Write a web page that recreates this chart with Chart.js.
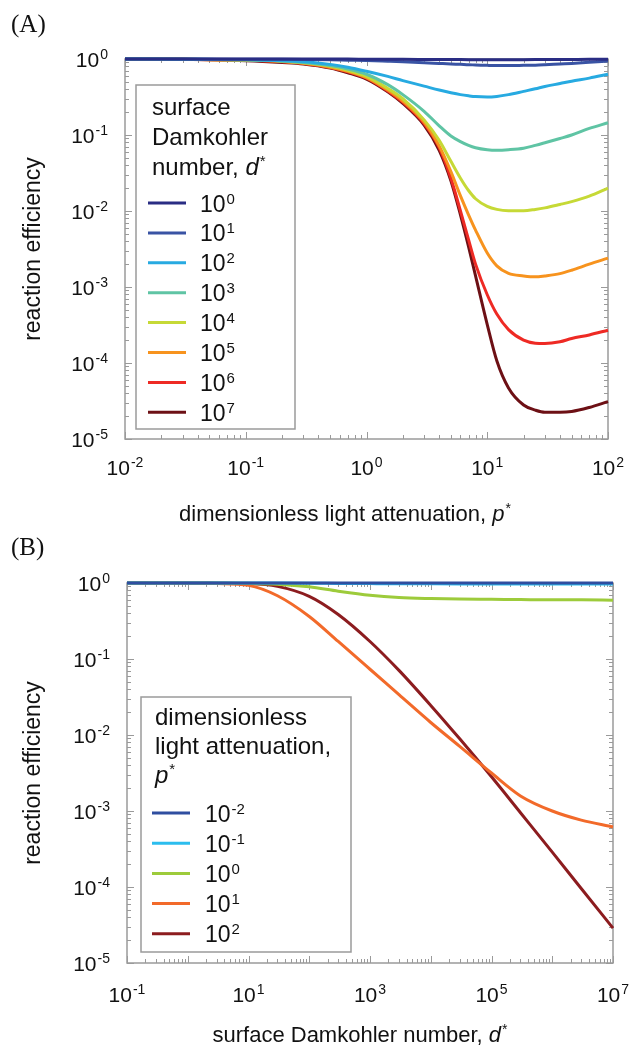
<!DOCTYPE html>
<html>
<head>
<meta charset="utf-8">
<script src="https://cdn.jsdelivr.net/npm/chart.js@4.4.1/dist/chart.umd.min.js"></script>
<style>
  html, body { margin: 0; padding: 0; background: #fff; }
  .panel { position: absolute; left: 0; width: 633px; }
</style>
</head>
<body>
<div class="panel" style="top:0;height:545px"><canvas id="chartA" width="633" height="545"></canvas></div>
<div class="panel" style="top:523px;height:523px"><canvas id="chartB" width="633" height="523"></canvas></div>
<script>
// ---- Panel A: efficiency vs light attenuation p*, one line per d* ----
const attenuation = [0.01, 0.03, 0.1, 0.2, 0.3, 0.5, 0.7, 1, 1.5, 2, 3, 4, 5, 6, 7, 8, 10, 12, 15, 20, 25, 30, 40, 50, 70, 100];
const effD0 = [1, 1, 1, 1, 1, 0.998, 0.997, 0.995, 0.993, 0.99, 0.987, 0.985, 0.983, 0.982, 0.981, 0.98, 0.98, 0.98, 0.98, 0.981, 0.982, 0.983, 0.985, 0.987, 0.99, 0.992];
const effD1 = [1, 1, 0.995, 0.99, 0.985, 0.975, 0.965, 0.955, 0.935, 0.92, 0.895, 0.875, 0.86, 0.85, 0.84, 0.835, 0.825, 0.82, 0.82, 0.825, 0.83, 0.84, 0.86, 0.875, 0.905, 0.94];
const effD2 = [1, 0.995, 0.98, 0.95, 0.92, 0.85, 0.78, 0.69, 0.59, 0.52, 0.44, 0.39, 0.36, 0.34, 0.328, 0.32, 0.316, 0.322, 0.34, 0.375, 0.405, 0.435, 0.475, 0.51, 0.56, 0.63];
const effD3 = [1, 0.995, 0.975, 0.94, 0.9, 0.82, 0.74, 0.63, 0.46, 0.34, 0.205, 0.132, 0.097, 0.082, 0.073, 0.068, 0.064, 0.063, 0.064, 0.067, 0.073, 0.079, 0.09, 0.1, 0.122, 0.145];
const effD4 = [1, 0.995, 0.97, 0.935, 0.89, 0.8, 0.71, 0.59, 0.41, 0.3, 0.158, 0.085, 0.045, 0.027, 0.0186, 0.0145, 0.0115, 0.0105, 0.0101, 0.0101, 0.0105, 0.011, 0.0122, 0.0133, 0.0157, 0.02];
const effD5 = [1, 0.995, 0.965, 0.93, 0.88, 0.78, 0.69, 0.57, 0.39, 0.28, 0.148, 0.072, 0.033, 0.0158, 0.0089, 0.0056, 0.0028, 0.0019, 0.00151, 0.0014, 0.00136, 0.0014, 0.0015, 0.00166, 0.002, 0.0024];
const effD6 = [1, 0.995, 0.96, 0.92, 0.875, 0.775, 0.68, 0.56, 0.38, 0.27, 0.141, 0.068, 0.027, 0.01, 0.0042, 0.002, 0.00079, 0.00044, 0.000275, 0.0002, 0.000182, 0.00018, 0.00019, 0.00021, 0.000234, 0.00027];
const effD7 = [1, 0.99, 0.95, 0.9, 0.86, 0.76, 0.66, 0.545, 0.37, 0.26, 0.135, 0.063, 0.025, 0.0089, 0.0034, 0.0014, 0.00032, 0.000107, 0.000047, 0.000028, 0.000024, 0.0000225, 0.0000225, 0.000023, 0.000026, 0.000031];
const damkohlerLabels = ['0', '1', '2', '3', '4', '5', '6', '7'];
const colorsA = ['#2a2d84', '#3953a4', '#27aae1', '#5fc4a4', '#c6d936', '#f7931e', '#ee2a24', '#6d1015'];

// ---- Panel B: efficiency vs Damkohler number d*, one line per p* ----
const damkohler = [0.1, 1, 3, 10, 30, 100, 300, 1e3, 3e3, 1e4, 3e4, 1e5, 3e5, 1e6, 3e6, 1e7];
const effPm2 = [1, 1, 1, 1, 1, 1, 0.999, 0.999, 0.998, 0.998, 0.997, 0.997, 0.997, 0.997, 0.997, 0.997];
const effPm1 = [1, 1, 1, 0.999, 0.997, 0.993, 0.988, 0.982, 0.977, 0.974, 0.972, 0.971, 0.97, 0.97, 0.97, 0.97];
const effP0 = [1, 0.999, 0.998, 0.99, 0.965, 0.89, 0.78, 0.69, 0.645, 0.625, 0.615, 0.61, 0.605, 0.6, 0.6, 0.595];
const effP1 = [1, 0.995, 0.984, 0.93, 0.68, 0.363, 0.17, 0.0733, 0.0339, 0.0146, 0.00708, 0.00316, 0.00158, 0.001, 0.000759, 0.000617];
const effP2 = [1, 1, 0.995, 0.982, 0.902, 0.667, 0.385, 0.17, 0.0708, 0.0245, 0.0089, 0.00282, 0.00095, 0.000288, 0.0000955, 0.0000288];
const attenuationLabels = ['-2', '-1', '0', '1', '2'];
const colorsB = ['#2f4ea0', '#2bbdee', '#9dcb3b', '#f26a2a', '#8c1c1f'];

const SANS = '"Liberation Sans", Arial, sans-serif';
const AXIS = '#9a9a9a';

function fontOf(r) {
  return (r.italic ? 'italic ' : '') + r.size + 'px ' + (r.family || SANS);
}

// draw a row of text runs (for superscripts and italics)
function drawRuns(ctx, runs, x, y, align) {
  let total = 0;
  runs.forEach(r => {
    ctx.font = fontOf(r);
    r.w = ctx.measureText(r.t).width;
    total += r.w + (r.gap || 0);
  });
  let cx = align === 'center' ? x - total / 2 : align === 'right' ? x - total : x;
  ctx.textAlign = 'left';
  ctx.textBaseline = 'alphabetic';
  runs.forEach(r => {
    ctx.font = fontOf(r);
    ctx.fillText(r.t, cx + (r.gap || 0), y - (r.rise || 0));
    cx += r.w + (r.gap || 0);
  });
}

function pow10(exp, size, expSize) {
  return [{t: '10', size: size}, {t: exp, size: expSize, rise: 8, gap: 1}];
}

const frame = {
  id: 'frame',
  beforeDatasetsDraw(chart, args, o) {
    const {ctx, chartArea: a, scales: {x, y}} = chart;
    ctx.save();
    ctx.strokeStyle = AXIS;
    ctx.lineWidth = 1.5;
    ctx.strokeRect(a.left, a.top, a.right - a.left, a.bottom - a.top);
    ctx.lineWidth = 1;
    ctx.beginPath();
    for (let e = o.xDec[0]; e <= o.xDec[1]; e++) {
      for (let m = 1; m <= 9; m++) {
        if (e === o.xDec[1] && m > 1) break;
        const px = Math.round(x.getPixelForValue(m * Math.pow(10, e))) + 0.5;
        const len = m === 1 ? 7 : 4;
        ctx.moveTo(px, a.bottom); ctx.lineTo(px, a.bottom - len);
        ctx.moveTo(px, a.top); ctx.lineTo(px, a.top + len);
      }
    }
    for (let e = o.yDec[0]; e <= o.yDec[1]; e++) {
      for (let m = 1; m <= 9; m++) {
        if (e === o.yDec[1] && m > 1) break;
        const py = Math.round(y.getPixelForValue(m * Math.pow(10, e))) + 0.5;
        const len = m === 1 ? 7 : 4;
        ctx.moveTo(a.left, py); ctx.lineTo(a.left + len, py);
        ctx.moveTo(a.right, py); ctx.lineTo(a.right - len, py);
      }
    }
    ctx.stroke();
    ctx.restore();
  },
  afterDatasetsDraw(chart, args, o) {
    const {ctx} = chart;
    const L = o.legend;
    ctx.save();
    ctx.fillStyle = '#fff';
    ctx.fillRect(L.box[0], L.box[1], L.box[2] - L.box[0], L.box[3] - L.box[1]);
    ctx.strokeStyle = AXIS;
    ctx.lineWidth = 1.5;
    ctx.strokeRect(L.box[0], L.box[1], L.box[2] - L.box[0], L.box[3] - L.box[1]);
    ctx.fillStyle = '#111';
    L.title.forEach((runs, i) => drawRuns(ctx, runs, L.titleX, L.titleY + i * L.titleDy, 'left'));
    chart.data.datasets.forEach((ds, i) => {
      const ly = L.entryY + i * L.entryDy;
      ctx.strokeStyle = ds.borderColor;
      ctx.lineWidth = 3;
      ctx.beginPath();
      ctx.moveTo(L.lineX[0], ly);
      ctx.lineTo(L.lineX[1], ly);
      ctx.stroke();
      ctx.fillStyle = '#111';
      drawRuns(ctx, pow10(L.labels[i], 23, 15), L.labelX, ly + 8.5, 'left');
    });
    ctx.restore();
  },
  afterDraw(chart, args, o) {
    const {ctx, chartArea: a, scales: {x, y}} = chart;
    ctx.save();
    ctx.fillStyle = '#111';
    for (let e = o.xDec[0]; e <= o.xDec[1]; e += o.xEvery) {
      drawRuns(ctx, pow10(String(e), 21, 14), x.getPixelForValue(Math.pow(10, e)), a.bottom + o.xTickDy, 'center');
    }
    for (let e = o.yDec[0]; e <= o.yDec[1]; e++) {
      drawRuns(ctx, pow10(String(e), 21, 14), a.left - 17, y.getPixelForValue(Math.pow(10, e)) + 7.5, 'right');
    }
    drawRuns(ctx, o.xTitle, o.xTitleX, o.xTitleY, 'center');
    ctx.save();
    ctx.translate(o.yTitleX, (a.top + a.bottom) / 2);
    ctx.rotate(-Math.PI / 2);
    drawRuns(ctx, [{t: 'reaction efficiency', size: 23}], 0, 0, 'center');
    ctx.restore();
    drawRuns(ctx, [{t: o.panel, size: 25, family: '"Liberation Serif", "Times New Roman", serif'}], 11, 32, 'left');
    ctx.restore();
  }
};

function makeChart(id, xs, series, colors, xRange, pad, deco) {
  return new Chart(document.getElementById(id), {
    type: 'line',
    data: {
      datasets: series.map((s, i) => ({
        data: s.map((v, j) => ({x: xs[j], y: v})),
        borderColor: colors[i],
        borderWidth: 3,
        pointRadius: 0,
        fill: false,
        cubicInterpolationMode: 'monotone',
        clip: 6
      }))
    },
    options: {
      responsive: false,
      animation: false,
      events: [],
      layout: {padding: pad},
      scales: {
        x: {type: 'logarithmic', min: xRange[0], max: xRange[1], display: false},
        y: {type: 'logarithmic', min: 1e-5, max: 1, display: false}
      },
      plugins: {legend: {display: false}, tooltip: {enabled: false}, frame: deco}
    },
    plugins: [frame]
  });
}

makeChart('chartA', attenuation,
  [effD0, effD1, effD2, effD3, effD4, effD5, effD6, effD7], colorsA,
  [0.01, 100], {left: 125, right: 25, top: 59, bottom: 106}, {
    panel: '(A)',
    xDec: [-2, 2], xEvery: 1, yDec: [-5, 0], xTickDy: 36,
    xTitle: [{t: 'dimensionless light attenuation, ', size: 22}, {t: 'p', size: 22, italic: true}, {t: '*', size: 14, rise: 8, gap: 1}],
    xTitleX: 345, xTitleY: 521, yTitleX: 40,
    legend: {
      box: [136, 85, 295, 429],
      title: [
        [{t: 'surface', size: 24}],
        [{t: 'Damkohler', size: 24}],
        [{t: 'number, ', size: 24}, {t: 'd', size: 24, italic: true}, {t: '*', size: 15, rise: 9, gap: 1}]
      ],
      titleX: 152, titleY: 115, titleDy: 30,
      entryY: 203, entryDy: 29.9, lineX: [148, 186], labelX: 200,
      labels: damkohlerLabels
    }
  });

makeChart('chartB', damkohler,
  [effPm2, effPm1, effP0, effP1, effP2], colorsB,
  [0.1, 1e7], {left: 127, right: 20, top: 60, bottom: 83}, {
    panel: '(B)',
    xDec: [-1, 7], xEvery: 2, yDec: [-5, 0], xTickDy: 39,
    xTitle: [{t: 'surface Damkohler number, ', size: 22}, {t: 'd', size: 22, italic: true}, {t: '*', size: 14, rise: 8, gap: 1}],
    xTitleX: 360, xTitleY: 519, yTitleX: 40,
    legend: {
      box: [141, 174, 351, 429],
      title: [
        [{t: 'dimensionless', size: 24}],
        [{t: 'light attenuation,', size: 24}],
        [{t: 'p', size: 24, italic: true}, {t: '*', size: 15, rise: 9, gap: 1}]
      ],
      titleX: 155, titleY: 202, titleDy: 29,
      entryY: 290, entryDy: 30.2, lineX: [152, 190], labelX: 205,
      labels: attenuationLabels
    }
  });
</script>
</body>
</html>
